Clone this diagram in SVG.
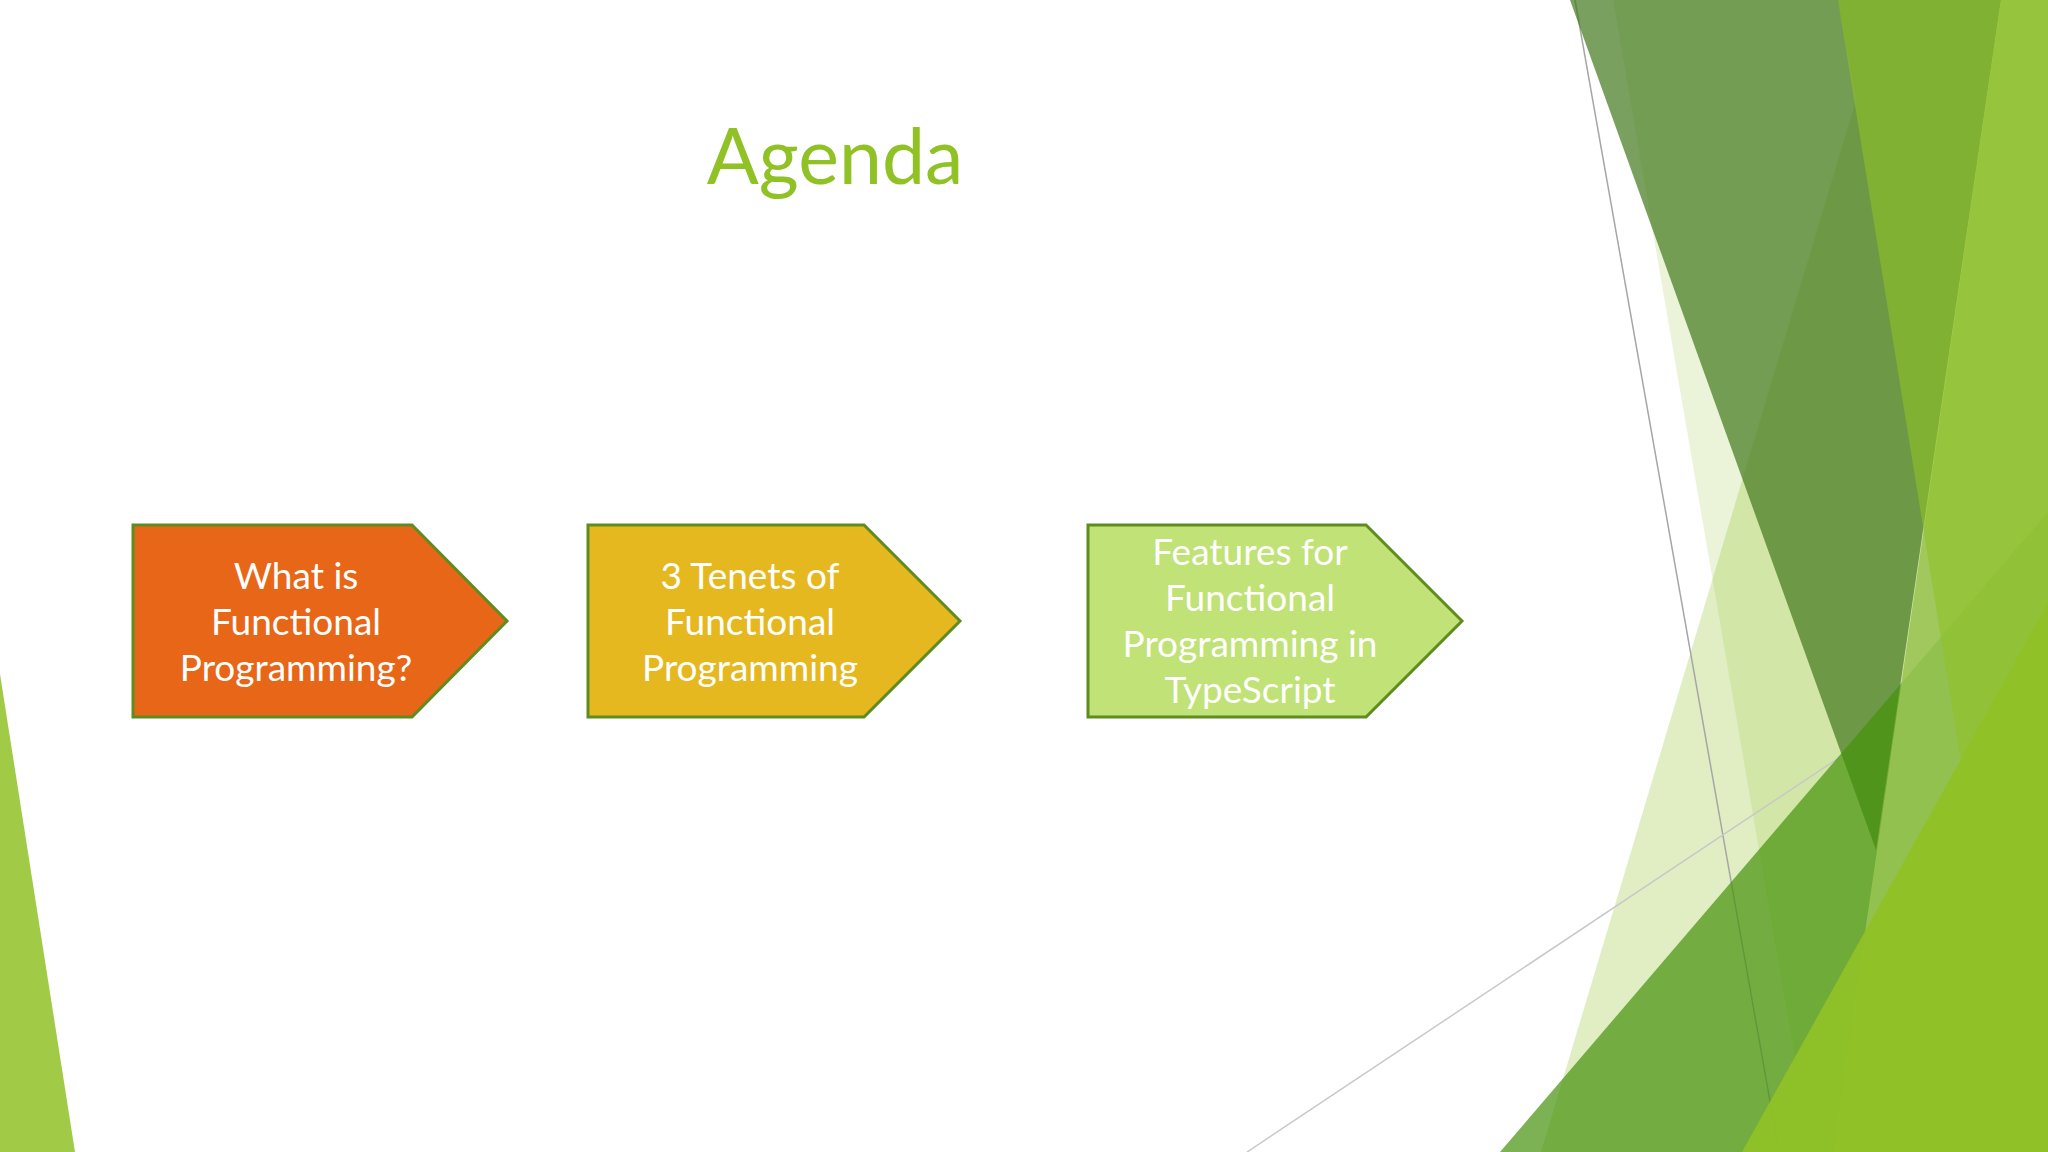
<svg xmlns="http://www.w3.org/2000/svg" width="2048" height="1152" viewBox="0 0 2048 1152">
  <style>
    .box { stroke: #5F8C1E; stroke-width: 3; stroke-linejoin: miter; }
    .lbl { font-family: Lato, "Open Sans", "Liberation Sans", sans-serif; font-size: 37px; fill: #FFFFFF; text-anchor: middle; }
    .title { font-family: Lato, "Open Sans", "Liberation Sans", sans-serif; font-size: 77px; fill: #90C226; text-anchor: middle; }
    .gline { fill: none; stroke-width: 1.5; }
  </style>
  <rect x="0" y="0" width="2048" height="1152" fill="#FFFFFF"/>

  <g id="background">
    <!-- left triangle -->
    <polygon points="0,674 75,1152 0,1152" fill="#90C226" fill-opacity="0.85"/>
    <!-- pale shapes -->
    <polygon points="1613,0 2048,0 2048,1152 1811,1152" fill="#90C226" fill-opacity="0.18"/>
    <polygon points="1838,0 2048,0 2048,1152 1541,1152 1856,100" fill="#90C226" fill-opacity="0.27"/>
    <!-- thin lines -->
    <line class="gline" x1="1575" y1="0" x2="1779" y2="1152" stroke="#A6A6A6"/>
    <line class="gline" x1="1247" y1="1152" x2="1840" y2="757" stroke="#C8C8C8"/>
    <!-- dark olive triangle -->
    <polygon points="1570,0 2001,0 1876,850" fill="#41771D" fill-opacity="0.7"/>
    <!-- medium green triangle -->
    <polygon points="1500,1152 2048,512 2048,1152" fill="#45920A" fill-opacity="0.7"/>
    <!-- light green band -->
    <polygon points="2001,0 2048,0 2048,1152 1833,1152" fill="#98C452" fill-opacity="0.88"/>
    <!-- accent band -->
    <polygon points="1838,0 2048,0 2048,1152 2024,1152" fill="#90C226" fill-opacity="0.6"/>
    <!-- bright lime triangle -->
    <polygon points="1742,1152 2048,603 2048,1152" fill="#90C226" fill-opacity="0.93"/>
  </g>

  <g id="title">
    <text class="title" x="835" y="184">Agenda</text>
  </g>

  <g id="node1">
    <polygon class="box" points="133,525 412,525 507,621 412,717 133,717" fill="#E76618"/>
    <text class="lbl" x="296" y="589">What is</text>
    <text class="lbl" x="296" y="635">Functional</text>
    <text class="lbl" x="296" y="681">Programming?</text>
  </g>

  <g id="node2">
    <polygon class="box" points="588,525 864,525 960,621 864,717 588,717" fill="#E5B81F"/>
    <text class="lbl" x="750" y="589">3 Tenets of</text>
    <text class="lbl" x="750" y="635">Functional</text>
    <text class="lbl" x="750" y="681">Programming</text>
  </g>

  <g id="node3">
    <polygon class="box" points="1088,525 1366,525 1462,621 1366,717 1088,717" fill="#C0E276"/>
    <text class="lbl" x="1250" y="565">Features for</text>
    <text class="lbl" x="1250" y="611">Functional</text>
    <text class="lbl" x="1250" y="657">Programming in</text>
    <text class="lbl" x="1250" y="703">TypeScript</text>
  </g>

  <g id="connectors"/>
</svg>
